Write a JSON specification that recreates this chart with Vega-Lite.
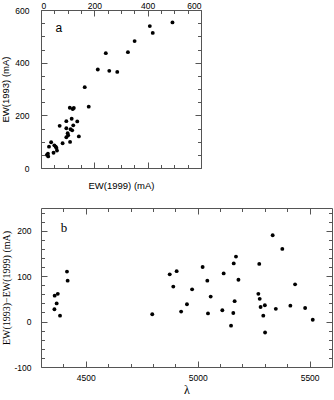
{
  "$schema": "https://vega.github.io/schema/vega-lite/v6.json",
  "padding": {"left": 0, "top": 0, "right": 0, "bottom": 0},
  "spacing": 40,
  "bounds": "flush",
  "config": {
    "view": {"stroke": "#555", "strokeWidth": 1},
    "axis": {"grid": false, "domain": false, "tickColor": "#555", "tickWidth": 1,
             "labelFont": "Liberation Sans", "labelFontSize": 8.5, "labelColor": "black",
             "titleColor": "black", "titleFontWeight": "normal", "titleFont": "Liberation Sans"}
  },
  "vconcat": [
    {
      "width": 160,
      "height": 158,
      "data": {"values": [
        {"ew99": 493, "ew93": 553}, {"ew99": 408, "ew93": 539}, {"ew99": 419, "ew93": 513},
        {"ew99": 351, "ew93": 482}, {"ew99": 326, "ew93": 440}, {"ew99": 243, "ew93": 436},
        {"ew99": 213, "ew93": 374}, {"ew99": 256, "ew93": 369}, {"ew99": 286, "ew93": 365},
        {"ew99": 164, "ew93": 307}, {"ew99": 179, "ew93": 233}, {"ew99": 108, "ew93": 229},
        {"ew99": 119, "ew93": 224}, {"ew99": 123, "ew93": 228}, {"ew99": 115, "ew93": 187},
        {"ew99": 136, "ew93": 177}, {"ew99": 95, "ew93": 178}, {"ew99": 70, "ew93": 160},
        {"ew99": 121, "ew93": 162}, {"ew99": 95, "ew93": 151}, {"ew99": 111, "ew93": 147},
        {"ew99": 117, "ew93": 143}, {"ew99": 100, "ew93": 132}, {"ew99": 102, "ew93": 124},
        {"ew99": 142, "ew93": 120}, {"ew99": 95, "ew93": 117}, {"ew99": 109, "ew93": 99},
        {"ew99": 81, "ew93": 94}, {"ew99": 38, "ew93": 98}, {"ew99": 30, "ew93": 81},
        {"ew99": 50, "ew93": 86}, {"ew99": 55, "ew93": 81}, {"ew99": 58, "ew93": 76},
        {"ew99": 60, "ew93": 66}, {"ew99": 47, "ew93": 58}, {"ew99": 26, "ew93": 54},
        {"ew99": 22, "ew93": 50}, {"ew99": 27, "ew93": 44}
      ]},
      "layer": [
        {
          "mark": {"type": "point", "filled": true, "color": "black", "size": 15, "opacity": 1},
          "encoding": {
            "x": {"field": "ew99", "type": "quantitative", "scale": {"domain": [0, 600], "nice": false, "zero": false},
                  "axis": {"orient": "top", "values": [0, 200, 400, 600], "ticks": false, "labelPadding": 0, "title": null}},
            "y": {"field": "ew93", "type": "quantitative", "scale": {"domain": [0, 600], "nice": false, "zero": false},
                  "axis": {"orient": "left", "values": [0, 200, 400, 600], "ticks": false, "labelPadding": 12,
                           "title": "EW(1993) (mA)", "titleFontSize": 9.5, "titlePadding": 4}}
          }
        },
        {
          "mark": {"type": "point", "opacity": 0},
          "encoding": {
            "x": {"field": "ew99", "type": "quantitative", "scale": {"domain": [0, 600], "nice": false, "zero": false},
                  "axis": {"orient": "top", "values": [0, 200, 400, 600], "tickSize": -6, "labels": false, "title": null}},
            "y": {"field": "ew93", "type": "quantitative", "scale": {"domain": [0, 600], "nice": false, "zero": false},
                  "axis": {"orient": "left", "values": [0, 200, 400, 600], "tickSize": -6, "labels": false, "title": null}}
          }
        },
        {
          "mark": {"type": "point", "opacity": 0},
          "encoding": {
            "x": {"field": "ew99", "type": "quantitative", "scale": {"domain": [0, 600], "nice": false, "zero": false},
                  "axis": {"orient": "top", "values": [50, 100, 150, 250, 300, 350, 450, 500, 550], "tickSize": -3.5, "labels": false, "title": null}},
            "y": {"field": "ew93", "type": "quantitative", "scale": {"domain": [0, 600], "nice": false, "zero": false},
                  "axis": {"orient": "left", "values": [50, 100, 150, 250, 300, 350, 450, 500, 550], "tickSize": -3.5, "labels": false, "title": null}}
          }
        },
        {
          "mark": {"type": "point", "opacity": 0},
          "encoding": {
            "x": {"field": "ew99", "type": "quantitative", "scale": {"domain": [0, 600], "nice": false, "zero": false},
                  "axis": {"orient": "bottom", "values": [0, 200, 400, 600], "tickSize": -6, "labels": false,
                           "title": "EW(1999) (mA)", "titleFontSize": 9.5, "titlePadding": 12}},
            "y": {"field": "ew93", "type": "quantitative", "scale": {"domain": [0, 600], "nice": false, "zero": false},
                  "axis": {"orient": "right", "values": [0, 200, 400, 600], "tickSize": -6, "labels": false, "title": null}}
          }
        },
        {
          "mark": {"type": "point", "opacity": 0},
          "encoding": {
            "x": {"field": "ew99", "type": "quantitative", "scale": {"domain": [0, 600], "nice": false, "zero": false},
                  "axis": {"orient": "bottom", "values": [50, 100, 150, 250, 300, 350, 450, 500, 550], "tickSize": -3.5, "labels": false, "title": null}},
            "y": {"field": "ew93", "type": "quantitative", "scale": {"domain": [0, 600], "nice": false, "zero": false},
                  "axis": {"orient": "right", "values": [50, 100, 150, 250, 300, 350, 450, 500, 550], "tickSize": -3.5, "labels": false, "title": null}}
          }
        },
        {
          "data": {"values": [{"px": 67, "py": 532, "t": "a"}]},
          "mark": {"type": "text", "font": "Liberation Sans", "fontSize": 12, "align": "center", "baseline": "middle", "fill": "black"},
          "encoding": {
            "x": {"field": "px", "type": "quantitative", "scale": {"domain": [0, 600], "nice": false, "zero": false}, "axis": null},
            "y": {"field": "py", "type": "quantitative", "scale": {"domain": [0, 600], "nice": false, "zero": false}, "axis": null},
            "text": {"field": "t"}
          }
        }
      ],
      "resolve": {"axis": {"x": "independent", "y": "independent"}}
    },
    {
      "width": 291,
      "height": 159,
      "data": {"values": [
        {"lambda": 4416, "diff": 110}, {"lambda": 4419, "diff": 90}, {"lambda": 4375, "diff": 61},
        {"lambda": 4361, "diff": 57}, {"lambda": 4370, "diff": 40}, {"lambda": 4360, "diff": 27},
        {"lambda": 4385, "diff": 13}, {"lambda": 4797, "diff": 16}, {"lambda": 4875, "diff": 104},
        {"lambda": 4891, "diff": 77}, {"lambda": 4906, "diff": 111}, {"lambda": 4926, "diff": 22},
        {"lambda": 4952, "diff": 38}, {"lambda": 4975, "diff": 71}, {"lambda": 5022, "diff": 120},
        {"lambda": 5043, "diff": 90}, {"lambda": 5046, "diff": 18}, {"lambda": 5058, "diff": 55},
        {"lambda": 5110, "diff": 25}, {"lambda": 5116, "diff": 106}, {"lambda": 5149, "diff": -9},
        {"lambda": 5159, "diff": 19}, {"lambda": 5161, "diff": 128}, {"lambda": 5165, "diff": 45},
        {"lambda": 5171, "diff": 143}, {"lambda": 5182, "diff": 92}, {"lambda": 5271, "diff": 61},
        {"lambda": 5275, "diff": 127}, {"lambda": 5277, "diff": 50}, {"lambda": 5281, "diff": 32},
        {"lambda": 5293, "diff": 13}, {"lambda": 5300, "diff": 36}, {"lambda": 5301, "diff": -24},
        {"lambda": 5335, "diff": 190}, {"lambda": 5349, "diff": 28}, {"lambda": 5378, "diff": 160},
        {"lambda": 5414, "diff": 35}, {"lambda": 5435, "diff": 82}, {"lambda": 5480, "diff": 30},
        {"lambda": 5514, "diff": 4}
      ]},
      "layer": [
        {
          "mark": {"type": "point", "filled": true, "color": "black", "size": 15, "opacity": 1},
          "encoding": {
            "x": {"field": "lambda", "type": "quantitative", "scale": {"domain": [4300, 5600], "nice": false, "zero": false},
                  "axis": {"orient": "bottom", "values": [4500, 5000, 5500], "format": "d", "ticks": false, "labelPadding": 6,
                           "title": "λ", "titleFont": "Liberation Serif", "titleFontSize": 12, "titlePadding": 3}},
            "y": {"field": "diff", "type": "quantitative", "scale": {"domain": [-100, 250], "nice": false, "zero": false},
                  "axis": {"orient": "left", "values": [-100, 0, 100, 200], "ticks": false, "labelPadding": 10,
                           "labelExpr": "'' + datum.value",
                           "title": "EW(1993)−EW(1999) (mA)", "titleFont": "Liberation Serif", "titleFontSize": 10, "titlePadding": 2}}
          }
        },
        {
          "mark": {"type": "point", "opacity": 0},
          "encoding": {
            "x": {"field": "lambda", "type": "quantitative", "scale": {"domain": [4300, 5600], "nice": false, "zero": false},
                  "axis": {"orient": "bottom", "values": [4500, 5000, 5500], "tickSize": -6, "labels": false, "title": null}},
            "y": {"field": "diff", "type": "quantitative", "scale": {"domain": [-100, 250], "nice": false, "zero": false},
                  "axis": {"orient": "left", "values": [-100, 0, 100, 200], "tickSize": -6, "labels": false, "title": null}}
          }
        },
        {
          "mark": {"type": "point", "opacity": 0},
          "encoding": {
            "x": {"field": "lambda", "type": "quantitative", "scale": {"domain": [4300, 5600], "nice": false, "zero": false},
                  "axis": {"orient": "bottom", "values": [4400, 4600, 4700, 4800, 4900, 5100, 5200, 5300, 5400], "tickSize": -3.5, "labels": false, "title": null}},
            "y": {"field": "diff", "type": "quantitative", "scale": {"domain": [-100, 250], "nice": false, "zero": false},
                  "axis": {"orient": "left", "values": [-80, -60, -40, -20, 20, 40, 60, 80, 120, 140, 160, 180, 220, 240], "tickSize": -3.5, "labels": false, "title": null}}
          }
        },
        {
          "mark": {"type": "point", "opacity": 0},
          "encoding": {
            "x": {"field": "lambda", "type": "quantitative", "scale": {"domain": [4300, 5600], "nice": false, "zero": false},
                  "axis": {"orient": "top", "values": [4500, 5000, 5500], "tickSize": -6, "labels": false, "title": null}},
            "y": {"field": "diff", "type": "quantitative", "scale": {"domain": [-100, 250], "nice": false, "zero": false},
                  "axis": {"orient": "right", "values": [-100, 0, 100, 200], "tickSize": -6, "labels": false, "title": null}}
          }
        },
        {
          "mark": {"type": "point", "opacity": 0},
          "encoding": {
            "x": {"field": "lambda", "type": "quantitative", "scale": {"domain": [4300, 5600], "nice": false, "zero": false},
                  "axis": {"orient": "top", "values": [4400, 4600, 4700, 4800, 4900, 5100, 5200, 5300, 5400], "tickSize": -3.5, "labels": false, "title": null}},
            "y": {"field": "diff", "type": "quantitative", "scale": {"domain": [-100, 250], "nice": false, "zero": false},
                  "axis": {"orient": "right", "values": [-80, -60, -40, -20, 20, 40, 60, 80, 120, 140, 160, 180, 220, 240], "tickSize": -3.5, "labels": false, "title": null}}
          }
        },
        {
          "data": {"values": [{"px": 4403, "py": 207, "t": "b"}]},
          "mark": {"type": "text", "font": "Liberation Serif", "fontSize": 13, "align": "center", "baseline": "middle", "fill": "black"},
          "encoding": {
            "x": {"field": "px", "type": "quantitative", "scale": {"domain": [4300, 5600], "nice": false, "zero": false}, "axis": null},
            "y": {"field": "py", "type": "quantitative", "scale": {"domain": [-100, 250], "nice": false, "zero": false}, "axis": null},
            "text": {"field": "t"}
          }
        }
      ],
      "resolve": {"axis": {"x": "independent", "y": "independent"}}
    }
  ]
}
